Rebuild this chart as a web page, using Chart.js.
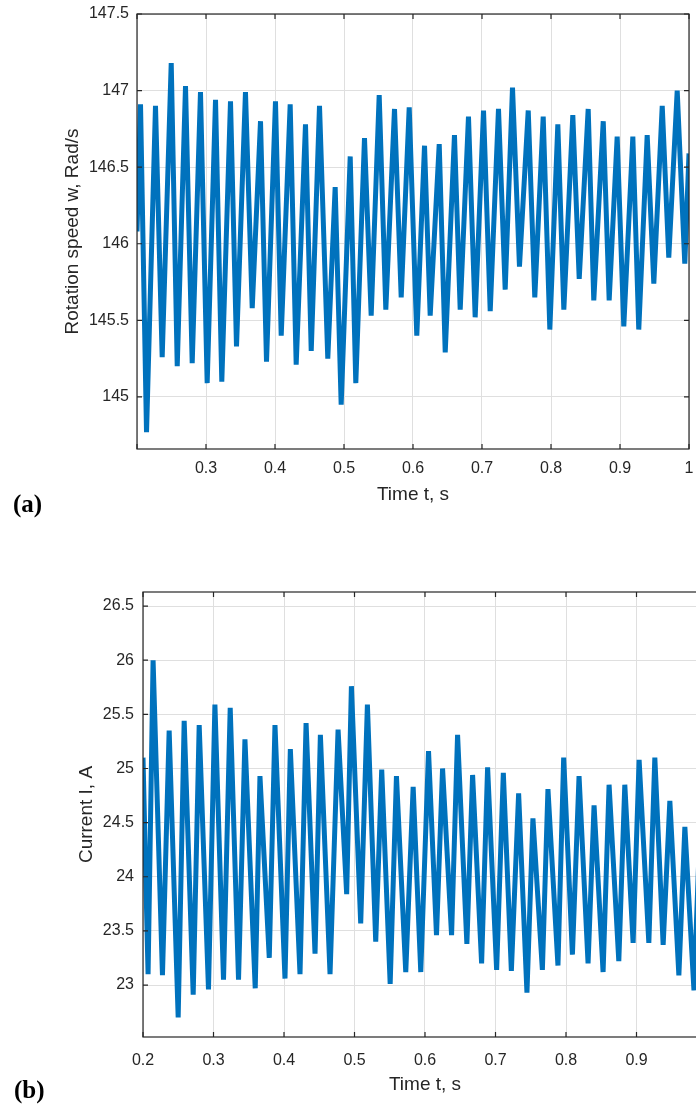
<!DOCTYPE html>
<html>
<head>
<meta charset="utf-8">
<script src="https://cdn.jsdelivr.net/npm/chart.js@4.4.1/dist/chart.umd.min.js"></script>
<style>
    html, body { margin: 0; padding: 0; background: #fff; }
    #page { position: relative; width: 696px; height: 1106px; overflow: hidden; background: #fff; }
    #speedChart { position: absolute; left: 0; top: 0; display: block; }
    #bottomWrap { position: absolute; left: 0; top: 560px; width: 696px; height: 546px; overflow: hidden; }
    #currentChart { display: block; }
    .panel { position: absolute; font-family: "Liberation Serif", serif; font-weight: bold; font-size: 25px; line-height: 25px; color: #000; }
</style>
</head>
<body>
<div id="page">
    <canvas id="speedChart" width="696" height="520"></canvas>
    <div id="bottomWrap"><canvas id="currentChart" width="740" height="546"></canvas></div>
    <div class="panel" style="left:13px;top:491px">(a)</div>
    <div class="panel" style="left:14px;top:1077px">(b)</div>
</div>
<script>
// ==================== DATA ====================

// (a) rotation speed, peaks and troughs
const speedTime = [
    0.2000, 0.2051, 0.2138, 0.2268, 0.2365, 0.2496, 0.2583, 0.2703, 0.2800, 0.2920,
    0.3017, 0.3138, 0.3229, 0.3355, 0.3442, 0.3572, 0.3670, 0.3790, 0.3877, 0.4007,
    0.4090, 0.4220, 0.4307, 0.4442, 0.4525, 0.4645, 0.4765, 0.4872, 0.4959, 0.5090,
    0.5171, 0.5297, 0.5394, 0.5510, 0.5606, 0.5732, 0.5829, 0.5945, 0.6055, 0.6167,
    0.6249, 0.6380, 0.6467, 0.6601, 0.6684, 0.6804, 0.6901, 0.7022, 0.7119, 0.7239,
    0.7336, 0.7442, 0.7543, 0.7670, 0.7765, 0.7887, 0.7983, 0.8099, 0.8186, 0.8316,
    0.8409, 0.8539, 0.8620, 0.8757, 0.8843, 0.8959, 0.9055, 0.9186, 0.9272, 0.9394,
    0.9490, 0.9612, 0.9707, 0.9829, 0.9939, 1.0000
];
const speedValue = [
    146.08, 146.91, 144.77, 146.90, 145.26, 147.18, 145.20, 147.03, 145.22, 146.99,
    145.09, 146.94, 145.10, 146.93, 145.33, 146.99, 145.58, 146.80, 145.23, 146.93,
    145.40, 146.91, 145.21, 146.78, 145.30, 146.90, 145.25, 146.37, 144.95, 146.57,
    145.09, 146.69, 145.53, 146.97, 145.57, 146.88, 145.65, 146.89, 145.40, 146.64,
    145.53, 146.65, 145.29, 146.71, 145.57, 146.83, 145.52, 146.87, 145.56, 146.88,
    145.70, 147.02, 145.85, 146.87, 145.65, 146.83, 145.44, 146.78, 145.57, 146.84,
    145.77, 146.88, 145.63, 146.80, 145.63, 146.70, 145.46, 146.70, 145.44, 146.71,
    145.74, 146.90, 145.91, 147.00, 145.87, 146.59
];

// (b) current, peaks and troughs
const currentTime = [
    0.2000, 0.2072, 0.2143, 0.2276, 0.2371, 0.2499, 0.2584, 0.2712, 0.2797, 0.2929,
    0.3020, 0.3142, 0.3237, 0.3355, 0.3446, 0.3592, 0.3659, 0.3791, 0.3872, 0.4014,
    0.4090, 0.4227, 0.4313, 0.4440, 0.4516, 0.4653, 0.4767, 0.4889, 0.4956, 0.5088,
    0.5183, 0.5301, 0.5386, 0.5506, 0.5595, 0.5727, 0.5832, 0.5940, 0.6050, 0.6163,
    0.6249, 0.6377, 0.6462, 0.6594, 0.6675, 0.6803, 0.6888, 0.7016, 0.7111, 0.7225,
    0.7328, 0.7446, 0.7531, 0.7665, 0.7744, 0.7886, 0.7967, 0.8091, 0.8185, 0.8313,
    0.8398, 0.8526, 0.8611, 0.8749, 0.8834, 0.8952, 0.9037, 0.9175, 0.9260, 0.9378,
    0.9473, 0.9601, 0.9686, 0.9815, 0.9925
];
const currentValue = [
    25.10, 23.10, 26.00, 23.09, 25.35, 22.70, 25.44, 22.91, 25.40, 22.96,
    25.59, 23.05, 25.56, 23.05, 25.27, 22.97, 24.93, 23.25, 25.40, 23.06,
    25.18, 23.10, 25.42, 23.29, 25.31, 23.10, 25.36, 23.84, 25.76, 23.57,
    25.59, 23.40, 24.99, 23.01, 24.93, 23.12, 24.83, 23.12, 25.16, 23.46,
    25.00, 23.46, 25.31, 23.38, 24.94, 23.20, 25.01, 23.14, 24.96, 23.13,
    24.77, 22.93, 24.54, 23.14, 24.81, 23.18, 25.10, 23.28, 24.93, 23.20,
    24.66, 23.12, 24.85, 23.22, 24.85, 23.39, 25.08, 23.39, 25.10, 23.37,
    24.70, 23.09, 24.46, 22.95, 24.90
];

// tick positions
const timeTicks = [0.2, 0.3, 0.4, 0.5, 0.6, 0.7, 0.8, 0.9, 1];
const speedTicks = [145, 145.5, 146, 146.5, 147, 147.5];
const currentTicks = [23, 23.5, 24, 24.5, 25, 25.5, 26, 26.5];

// ==================== STYLE ====================
const lineColor = '#0072BD';
const axisColor = '#262626';
const gridColor = '#dfdfdf';
const tickFont = { family: '"Liberation Sans", Arial, sans-serif', size: 16 };
const titleFont = { family: '"Liberation Sans", Arial, sans-serif', size: 19 };

const fmt = v => String(+Number(v).toFixed(2));

// khung kiểu MATLAB: viền 4 cạnh + vạch chia hướng vào trong
const boxPlugin = {
    id: 'matlabBox',
    afterDatasetsDraw(chart) {
        const { ctx, chartArea: a, scales: { x, y } } = chart;
        ctx.save();
        ctx.strokeStyle = axisColor;
        ctx.lineWidth = 1.2;
        ctx.strokeRect(a.left, a.top, a.right - a.left, a.bottom - a.top);
        ctx.beginPath();
        x.ticks.forEach(t => {
            const px = x.getPixelForValue(t.value);
            ctx.moveTo(px, a.bottom); ctx.lineTo(px, a.bottom - 5);
            ctx.moveTo(px, a.top); ctx.lineTo(px, a.top + 5);
        });
        y.ticks.forEach(t => {
            const py = y.getPixelForValue(t.value);
            ctx.moveTo(a.left, py); ctx.lineTo(a.left + 5, py);
            ctx.moveTo(a.right, py); ctx.lineTo(a.right - 5, py);
        });
        ctx.stroke();
        ctx.restore();
    }
};

function zeroPad(s) {
    s.paddingLeft = 0; s.paddingRight = 0; s.paddingTop = 0; s.paddingBottom = 0;
}

function buildChart(canvasId, times, values, cfg) {
    const points = times.map((t, i) => ({ x: t, y: values[i] }));
    return new Chart(document.getElementById(canvasId), {
        type: 'line',
        data: {
            datasets: [{
                data: points,
                borderColor: lineColor,
                borderWidth: 5,
                pointRadius: 0,
                tension: 0,
                fill: false
            }]
        },
        options: {
            responsive: false,
            animation: false,
            events: [],
            layout: { padding: cfg.padding },
            plugins: { legend: { display: false }, tooltip: { enabled: false } },
            scales: {
                x: {
                    type: 'linear',
                    min: 0.2,
                    max: 1,
                    afterBuildTicks: s => { s.ticks = timeTicks.map(v => ({ value: v })); },
                    afterFit: s => { s.height = cfg.xHeight; zeroPad(s); },
                    grid: { color: gridColor, drawTicks: false },
                    border: { display: false },
                    ticks: {
                        color: axisColor, font: tickFont, padding: cfg.xTickPad,
                        maxRotation: 0, autoSkip: false,
                        callback: v => (cfg.hideFirstX && v === 0.2) ? '' : fmt(v)
                    },
                    title: {
                        display: true, text: 'Time t, s', color: axisColor, font: titleFont,
                        padding: { top: 0, bottom: cfg.xTitlePad }
                    }
                },
                y: {
                    type: 'linear',
                    min: cfg.yMin,
                    max: cfg.yMax,
                    afterBuildTicks: s => { s.ticks = cfg.yTicks.map(v => ({ value: v })); },
                    afterFit: s => { s.width = cfg.yWidth; zeroPad(s); },
                    grid: { color: gridColor, drawTicks: false },
                    border: { display: false },
                    ticks: { color: axisColor, font: tickFont, padding: cfg.yTickPad, autoSkip: false, callback: v => fmt(v) },
                    title: {
                        display: true, text: cfg.yTitle, color: axisColor, font: titleFont,
                        padding: { top: cfg.yTitlePad, bottom: 0 }
                    }
                }
            }
        },
        plugins: [boxPlugin]
    });
}

// (a) tốc độ quay
buildChart('speedChart', speedTime, speedValue, {
    padding: { top: 14, right: 7, left: 0, bottom: 0 },
    xHeight: 71, yWidth: 137,
    xTickPad: 10, yTickPad: 8,
    xTitlePad: 14, yTitlePad: 61,
    yMin: 144.66, yMax: 147.5, yTicks: speedTicks,
    yTitle: 'Rotation speed w, Rad/s',
    hideFirstX: true
});

// (b) dòng điện
buildChart('currentChart', currentTime, currentValue, {
    padding: { top: 32, right: 33, left: 0, bottom: 0 },
    xHeight: 69, yWidth: 143,
    xTickPad: 14, yTickPad: 9,
    xTitlePad: 10, yTitlePad: 75,
    yMin: 22.52, yMax: 26.63, yTicks: currentTicks,
    yTitle: 'Current I, A',
    hideFirstX: false
});
</script>
</body>
</html>
